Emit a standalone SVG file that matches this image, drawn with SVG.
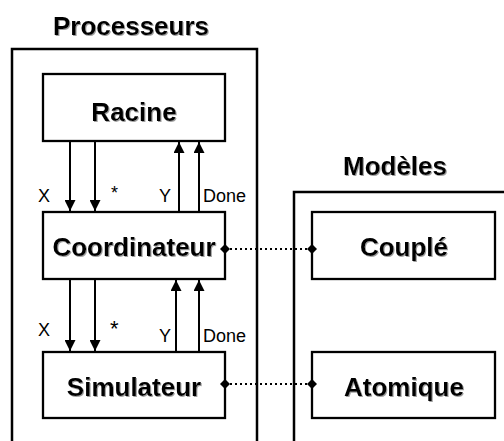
<svg xmlns="http://www.w3.org/2000/svg" width="504" height="441" viewBox="0 0 504 441">
<style>
.frame{fill:none;stroke:#000;stroke-width:2.5}
.box{fill:#fff;stroke:#000;stroke-width:2.3}
.title{font-family:"Liberation Sans",Arial,sans-serif;font-weight:bold;font-size:26px;fill:#000;text-anchor:middle}
.lbl{font-family:"Liberation Sans",Arial,sans-serif;font-size:18px;fill:#000}
.arr{stroke:#000;stroke-width:2;fill:none}
.dot{stroke:#000;stroke-width:2;stroke-dasharray:2 3;fill:none}
</style>
<defs>
<filter id="sh" x="-5%" y="-5%" width="115%" height="130%">
<feDropShadow dx="1" dy="1" stdDeviation="0.4" flood-color="#888" flood-opacity="0.8"/>
</filter>
<marker id="ah" viewBox="0 0 11 11" refX="11" refY="5.5" markerWidth="11" markerHeight="11" markerUnits="userSpaceOnUse" orient="auto">
<path d="M0,0 L11,5.5 L0,11 Z" fill="#000"/>
</marker>
<marker id="dm" viewBox="0 0 10 10" refX="5" refY="5" markerWidth="10" markerHeight="10" markerUnits="userSpaceOnUse" orient="auto">
<path d="M0,5 L5,0 L10,5 L5,10 Z" fill="#000"/>
</marker>
</defs>
<rect width="504" height="441" fill="#fff"/>
<g id="processeurs">
<path class="frame" d="M12,443 V49 H257 V443"/>
<text class="title" x="131" y="35" filter="url(#sh)">Processeurs</text>
</g>
<g id="modeles">
<path class="frame" d="M294,443 V192 H506"/>
<text class="title" x="395" y="175" filter="url(#sh)">Modèles</text>
</g>
<g id="racine">
<rect class="box" x="43" y="74" width="182" height="67"/>
<text class="title" x="134" y="121" filter="url(#sh)">Racine</text>
</g>
<g id="coordinateur">
<rect class="box" x="43" y="212" width="182" height="67"/>
<text class="title" x="134" y="256" filter="url(#sh)">Coordinateur</text>
</g>
<g id="simulateur">
<rect class="box" x="43" y="352" width="182" height="66"/>
<text class="title" x="134" y="396" filter="url(#sh)">Simulateur</text>
</g>
<g id="couple">
<rect class="box" x="312" y="212" width="183" height="67"/>
<text class="title" x="404" y="256" filter="url(#sh)">Couplé</text>
</g>
<g id="atomique">
<rect class="box" x="312" y="352" width="183" height="66"/>
<text class="title" x="404" y="396" filter="url(#sh)">Atomique</text>
</g>
<g id="connectors">
<line class="arr" x1="70" y1="142" x2="70" y2="211" marker-end="url(#ah)"/>
<line class="arr" x1="95" y1="142" x2="95" y2="211" marker-end="url(#ah)"/>
<line class="arr" x1="179" y1="211" x2="179" y2="142" marker-end="url(#ah)"/>
<line class="arr" x1="199" y1="211" x2="199" y2="142" marker-end="url(#ah)"/>
<line class="arr" x1="70" y1="280" x2="70" y2="351" marker-end="url(#ah)"/>
<line class="arr" x1="95" y1="280" x2="95" y2="351" marker-end="url(#ah)"/>
<line class="arr" x1="176" y1="351" x2="176" y2="280" marker-end="url(#ah)"/>
<line class="arr" x1="199" y1="351" x2="199" y2="280" marker-end="url(#ah)"/>
<line class="dot" x1="225" y1="249" x2="312" y2="249" marker-start="url(#dm)" marker-end="url(#dm)"/>
<line class="dot" x1="225" y1="384" x2="312" y2="384" marker-start="url(#dm)" marker-end="url(#dm)"/>
<text class="lbl" x="38" y="202">X</text>
<text class="lbl" x="111" y="199">*</text>
<text class="lbl" x="159" y="202">Y</text>
<text class="lbl" x="203" y="202">Done</text>
<text class="lbl" x="38" y="336">X</text>
<text class="lbl" x="110" y="336" style="font-size:22px">*</text>
<text class="lbl" x="159" y="342">Y</text>
<text class="lbl" x="203" y="342">Done</text>
</g>
</svg>
